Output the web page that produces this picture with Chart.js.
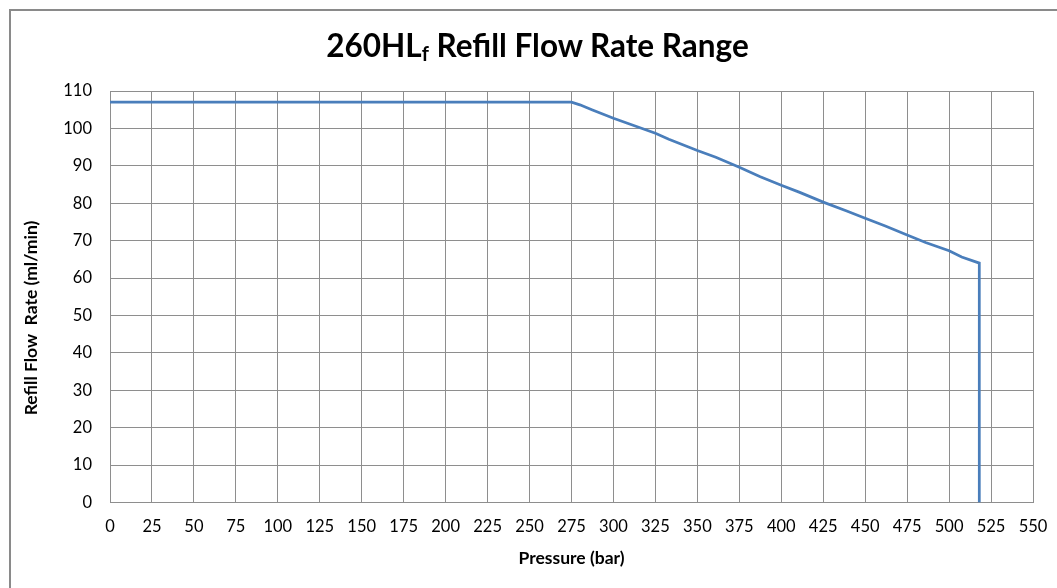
<!DOCTYPE html>
<html>
<head>
<meta charset="utf-8">
<script src="https://cdn.jsdelivr.net/npm/chart.js@4"></script>
<style>
  html, body { margin: 0; padding: 0; background: #fff; }
  #wrap { position: relative; width: 1057px; height: 588px; }
  #title { position: absolute; left: 0; width: 1075px; top: 26px; text-align: center;
           font-family: Lato, "Liberation Sans", sans-serif; font-weight: bold; font-size: 31.5px;
           color: #000; line-height: 38px; white-space: nowrap; }
  #title sub { font-size: 20px; vertical-align: -4px; line-height: 0; }
</style>
</head>
<body>
<div id="wrap">
  <canvas id="c" width="1057" height="588"></canvas>
  <div id="title">260HL<sub>f</sub> Refill Flow Rate Range</div>
</div>
<script>
const pressure = [0, 275, 280, 287.5, 300, 312.5, 325, 333, 350, 361, 375, 387.5, 400, 411, 425, 439, 450, 462, 475, 486, 500, 507.5, 518, 518];
const flowRate = [107, 107, 106.3, 104.9, 102.7, 100.7, 98.7, 97.1, 94.1, 92.3, 89.6, 87.1, 84.8, 82.9, 80.3, 77.9, 76.0, 73.9, 71.5, 69.5, 67.3, 65.6, 64.0, 0];
const xTitle = 'Pressure (bar)';
const yTitle = 'Refill Flow  Rate (ml/min)';

const points = pressure.map((p, i) => ({ x: p, y: flowRate[i] }));

const frame = {
  id: 'frame',
  beforeDraw(chart) {
    const ctx = chart.ctx;
    ctx.save();
    ctx.strokeStyle = '#8a8a8a';
    ctx.lineWidth = 2;
    ctx.beginPath();
    ctx.moveTo(10, 600);
    ctx.lineTo(10, 10);
    ctx.lineTo(1070, 10);
    ctx.stroke();
    ctx.restore();
  },
  afterDraw(chart) {
    const ctx = chart.ctx;
    ctx.save();
    ctx.translate(31, 318);
    ctx.rotate(-Math.PI / 2);
    ctx.font = 'bold 17.5px Lato';
    ctx.fillStyle = '#000';
    ctx.textAlign = 'center';
    ctx.textBaseline = 'middle';
    ctx.fillText(yTitle, 0, 0);
    ctx.restore();
  }
};

const gridColor = '#8e8e8e';
new Chart(document.getElementById('c'), {
  type: 'scatter',
  data: {
    datasets: [{
      data: points,
      showLine: true,
      borderColor: '#4a7ebb',
      borderWidth: 2.75,
      pointRadius: 0,
      tension: 0,
      fill: false
    }]
  },
  options: {
    responsive: false,
    animation: false,
    layout: { padding: { left: 0, right: 24, top: 91, bottom: 0 } },
    plugins: { legend: { display: false }, tooltip: { enabled: false }, title: { display: false } },
    scales: {
      x: {
        type: 'linear', min: 0, max: 550,
        afterFit: s => { s.height = 85.5; s.paddingLeft = 0; s.paddingRight = 0; },
        ticks: { stepSize: 25, padding: 14, color: '#000', font: { family: 'Lato', size: 16.5 } },
        grid: { color: gridColor, lineWidth: 1, drawTicks: false },
        border: { color: gridColor, width: 1 },
        title: { display: true, text: xTitle, color: '#000', font: { family: 'Lato', weight: 'bold', size: 17.5 }, padding: { top: 0, bottom: 19.5 } }
      },
      y: {
        type: 'linear', min: 0, max: 110,
        afterFit: s => { s.width = 110; s.paddingTop = 0; s.paddingBottom = 0; },
        ticks: { stepSize: 10, padding: 18, color: '#000', font: { family: 'Lato', size: 16.5 } },
        grid: { color: gridColor, lineWidth: 1, drawTicks: false },
        border: { color: gridColor, width: 1 },
        title: { display: false }
      }
    }
  },
  plugins: [frame]
});
</script>
</body>
</html>
